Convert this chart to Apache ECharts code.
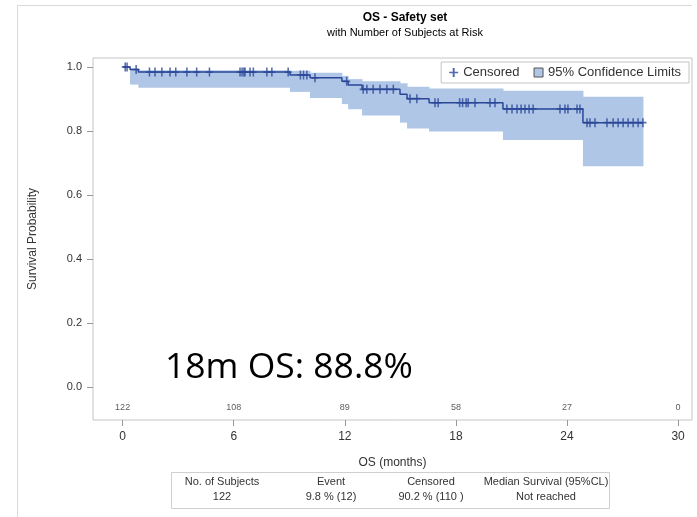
<!DOCTYPE html>
<html><head><meta charset="utf-8">
<script src="https://cdn.jsdelivr.net/npm/echarts@6/dist/echarts.min.js"></script>
<style>html,body{margin:0;padding:0;background:#fff}#c{width:697px;height:517px}</style>
</head><body><div id="c"></div>
<script>
// ---- data ----
const eventTimes = [0, 0.4, 0.85, 9.04, 10.12, 11.84, 12.18, 12.93, 14.98, 15.36, 16.55, 20.54, 24.86];
const survival   = [1, 0.992, 0.984, 0.975, 0.966, 0.955, 0.944, 0.930, 0.915, 0.901, 0.888, 0.869, 0.826];
const lowerCL    = [1, 0.945, 0.935, 0.922, 0.903, 0.884, 0.868, 0.848, 0.826, 0.808, 0.798, 0.772, 0.690];
const upperCL    = [1, 0.995, 0.990, 0.988, 0.982, 0.972, 0.962, 0.955, 0.949, 0.938, 0.933, 0.926, 0.907];
const lastTime = 28.1;
const censoredTimes = [0.14, 0.24, 0.73, 1.45, 1.75, 2.12, 2.56, 2.87, 3.47, 4.0, 4.69,
  6.34, 6.45, 6.55, 6.61, 6.88, 7.06, 7.79, 8.06, 8.94, 9.6, 9.77, 9.95, 10.39,
  12.1, 12.99, 13.19, 13.53, 13.9, 14.27, 14.62, 15.52, 15.89, 16.87, 17.04,
  18.2, 18.36, 18.55, 18.66, 19.03, 19.84, 20.11, 20.75, 21.03, 21.3, 21.52, 21.73, 21.95, 22.17,
  23.62, 23.89, 24.05, 24.54, 24.7, 25.08, 25.24, 25.51, 26.16, 26.49, 26.76, 27.03, 27.3, 27.57, 27.84, 28.1];
const xTicks = [0, 6, 12, 18, 24, 30];
const atRisk = [122, 108, 89, 58, 27, 0];
const yTicks = [0, 0.2, 0.4, 0.6, 0.8, 1.0];
const tableHeaders = ['No. of Subjects', 'Event', 'Censored', 'Median Survival (95%CL)'];
const tableValues = ['122', '9.8 % (12)', '90.2 % (110 )', 'Not reached'];
const annotation = '18m OS: 88.8%';

// ---- styling ----
const lineColor = '#2a4797';
const bandColor = '#afc6e6';
const font = '"Liberation Sans", Arial, sans-serif';
const plusPath = 'path://M3.9,0 H6.1 V4.1 H10 V5.9 H6.1 V10 H3.9 V5.9 H0 V4.1 H3.9 Z';

function survAt(t) {
  let s = 1;
  for (let i = 0; i < eventTimes.length; i++) if (eventTimes[i] <= t) s = survival[i];
  return s;
}
const curveData = eventTimes.map((t, i) => [t, survival[i]]).concat([[lastTime, survival[survival.length - 1]]]);
// band intervals: [start, end, lower, upper]
const bandData = eventTimes.map((t, i) => [t, i + 1 < eventTimes.length ? eventTimes[i + 1] : lastTime, lowerCL[i], upperCL[i]]);
const censData = censoredTimes.map(t => [t, survAt(t)]);
const riskData = xTicks.map((t, i) => ({ value: [t, -0.0625], count: atRisk[i] }));

const chart = echarts.init(document.getElementById('c'));
const tableCols = [222, 331, 431, 546];
const graphics = [
  { type: 'line', shape: { x1: 17.5, y1: 5.5, x2: 692, y2: 5.5 }, style: { stroke: '#d9d9d9', lineWidth: 1 } },
  { type: 'line', shape: { x1: 17.5, y1: 5.5, x2: 17.5, y2: 517 }, style: { stroke: '#d9d9d9', lineWidth: 1 } },
  { type: 'rect', shape: { x: 171.5, y: 472.5, width: 438, height: 36 }, style: { fill: '#fff', stroke: '#cfcfcf', lineWidth: 1 } },
  { type: 'text', left: 165, top: 350, z: 100, style: { text: annotation, font: '35.5px "Open Sans", sans-serif', fill: '#000' } }
];
tableHeaders.forEach((h, i) => {
  graphics.push({ type: 'text', x: tableCols[i], y: 482, style: { text: h, font: '11px ' + font, fill: '#333', textAlign: 'center', textVerticalAlign: 'middle' } });
  graphics.push({ type: 'text', x: tableCols[i], y: 497, style: { text: tableValues[i], font: '11px ' + font, fill: '#333', textAlign: 'center', textVerticalAlign: 'middle' } });
});

chart.setOption({
  animation: false,
  backgroundColor: '#fff',
  title: {
    text: 'OS - Safety set', subtext: 'with Number of Subjects at Risk',
    left: 400, top: 7, textAlign: 'center', itemGap: 3,
    textStyle: { fontSize: 12, fontWeight: 'bold', color: '#000', fontFamily: font },
    subtextStyle: { fontSize: 11, color: '#000', fontFamily: font }
  },
  legend: {
    right: 8, top: 62, padding: [4, 8], itemGap: 14, itemWidth: 9, itemHeight: 9,
    borderColor: '#c4c4c4', borderWidth: 1, backgroundColor: '#fff',
    textStyle: { fontSize: 13, color: '#333', fontFamily: font },
    data: [
      { name: 'Censored', icon: plusPath, itemStyle: { color: lineColor } },
      { name: '95% Confidence Limits', icon: 'rect', itemStyle: { color: bandColor, borderColor: '#555', borderWidth: 1 } }
    ]
  },
  grid: { left: 93, top: 58, right: 5, bottom: 97, show: true, borderColor: '#c4c4c4', borderWidth: 1, backgroundColor: 'transparent' },
  xAxis: {
    type: 'value', min: -1.6, max: 30.75,
    name: 'OS (months)', nameLocation: 'middle', nameGap: 37,
    nameTextStyle: { fontSize: 12, color: '#333', fontFamily: font },
    axisLine: { show: false, onZero: false },
    axisTick: { show: true, customValues: xTicks, length: 6, lineStyle: { color: '#999' } },
    axisLabel: { customValues: xTicks, margin: 11, fontSize: 12, color: '#333', fontFamily: font },
    splitLine: { show: false }
  },
  yAxis: {
    type: 'value', min: -0.103, max: 1.028,
    name: 'Survival Probability', nameLocation: 'middle', nameGap: 54,
    nameTextStyle: { fontSize: 12, color: '#333', fontFamily: font },
    axisLine: { show: false, onZero: false },
    axisTick: { show: true, customValues: yTicks, length: 6, lineStyle: { color: '#999' } },
    axisLabel: { customValues: yTicks, margin: 11, fontSize: 11, color: '#333', fontFamily: font, formatter: v => v.toFixed(1) },
    splitLine: { show: false }
  },
  series: [
    { type: 'custom', name: '95% Confidence Limits', data: bandData, silent: true, z: 1,
      itemStyle: { color: bandColor },
      encode: { x: [0, 1], y: [2, 3] },
      renderItem: (params, api) => {
        const p0 = api.coord([api.value(0), api.value(3)]);
        const p1 = api.coord([api.value(1), api.value(2)]);
        return { type: 'rect', shape: { x: p0[0], y: p0[1], width: p1[0] - p0[0] + 0.5, height: p1[1] - p0[1] },
          style: { fill: bandColor } };
      } },
    { type: 'line', name: 'Survival', data: curveData, step: 'end', symbol: 'none', lineStyle: { color: lineColor, width: 1.5 }, z: 3 },
    { type: 'scatter', name: 'Censored', data: censData, symbol: plusPath, symbolSize: [7, 9], itemStyle: { color: lineColor }, z: 4 },
    { type: 'scatter', name: 'atrisk', data: riskData, symbolSize: 0, silent: true,
      label: { show: true, position: 'inside', formatter: p => String(p.data.count), fontSize: 9, color: '#333', fontFamily: font } }
  ],
  graphic: graphics
});
</script></body></html>
